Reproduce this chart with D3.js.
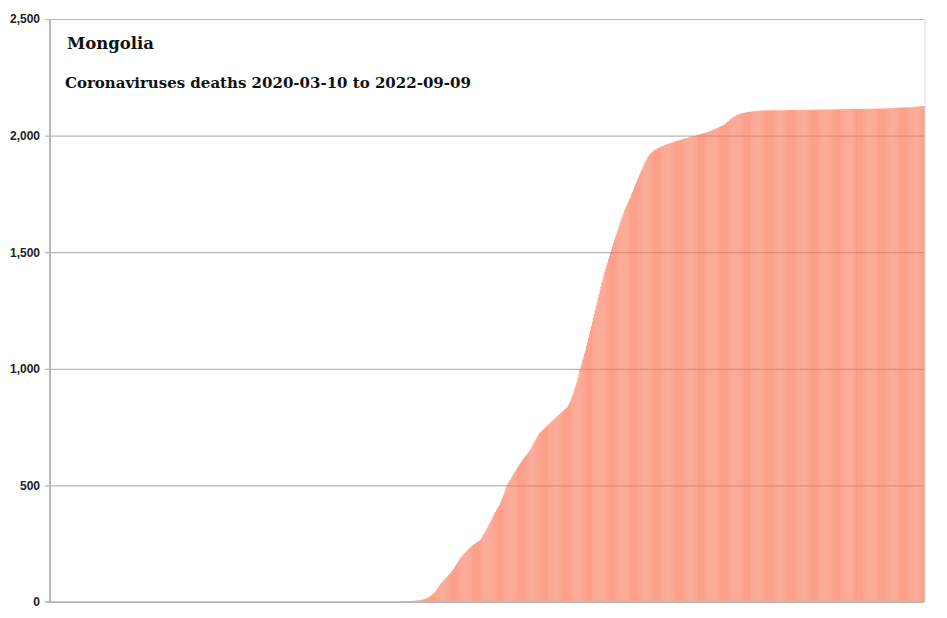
<!DOCTYPE html>
<html>
<head>
<meta charset="utf-8">
<title>Mongolia deaths</title>
<script src="https://d3js.org/d3.v7.min.js"></script>
<style>
body { margin: 0; background: #fff; }
svg { display: block; }
.title { font-family: 'DejaVu Serif', serif; fill: #111; }
.tick text { font-family: 'Liberation Sans', Arial, sans-serif; font-weight: bold; font-size: 12px; fill: #222; }
</style>
</head>
<body>
<svg id="chart" width="947" height="618"></svg>
<script>
// chart texts
var country = "Mongolia";
var subtitle = "Coronaviruses deaths 2020-03-10 to 2022-09-09";
var startDate = "2020-03-10";
var endDate = "2022-09-09";
var yTicks = [0, 500, 1000, 1500, 2000, 2500];

// cumulative deaths, one value per day
// nothing recorded for the first 358 days
var leadingZeroDays = 358;
var deathsFromDay358 = [
0,0,0,2,2,2,2,2,2,2,
3,3,3,3,3,4,4,4,4,4,
5,5,5,6,6,7,7,8,8,9,
10,11,12,13,14,16,18,20,23,26,
29,33,37,41,45,51,57,63,69,75,
81,85,89,93,98,102,107,111,116,120,
124,130,136,142,148,155,161,168,174,181,
187,193,198,202,207,211,216,220,224,228,
232,236,239,243,246,249,252,255,258,261,
263,266,273,280,287,293,300,308,316,323,
331,339,347,355,364,372,380,387,395,402,
410,417,425,436,447,458,469,480,491,502,
509,516,523,530,536,543,550,556,563,570,
576,583,590,596,602,608,614,619,625,630,
636,641,647,652,660,667,675,682,690,697,
704,711,718,725,729,733,737,741,745,749,
753,757,761,765,769,772,776,780,784,787,
791,795,799,802,806,810,814,817,821,825,
829,832,836,844,852,860,872,884,896,908,
920,932,945,962,978,995,1009,1023,1038,1052,
1066,1080,1097,1114,1132,1149,1166,1183,1200,1218,
1235,1252,1269,1286,1304,1321,1338,1353,1369,1384,
1400,1415,1429,1442,1456,1470,1483,1497,1511,1524,
1538,1551,1565,1577,1589,1601,1613,1625,1637,1648,
1660,1671,1683,1692,1701,1710,1719,1728,1737,1748,
1758,1769,1779,1790,1800,1810,1820,1830,1840,1849,
1858,1867,1876,1885,1892,1899,1907,1914,1921,1924,
1928,1931,1935,1938,1940,1942,1944,1947,1949,1951,
1953,1954,1956,1958,1960,1961,1963,1964,1966,1967,
1969,1970,1972,1973,1974,1975,1977,1978,1979,1980,
1982,1983,1984,1985,1986,1988,1989,1990,1991,1992,
1994,1995,1996,1997,1998,1999,2000,2002,2003,2004,
2005,2006,2007,2009,2010,2011,2012,2013,2015,2016,
2018,2019,2021,2023,2024,2026,2028,2030,2032,2034,
2036,2038,2040,2042,2043,2045,2048,2052,2055,2059,
2062,2066,2069,2073,2076,2080,2082,2084,2086,2088,
2090,2092,2093,2094,2095,2096,2097,2098,2099,2100,
2101,2101,2102,2102,2103,2103,2104,2105,2105,2106,
2106,2106,2107,2107,2108,2108,2108,2108,2108,2108,
2108,2108,2108,2108,2108,2108,2109,2109,2109,2109,
2109,2109,2109,2109,2109,2109,2109,2109,2109,2109,
2109,2109,2110,2110,2110,2110,2110,2110,2110,2110,
2110,2110,2110,2110,2110,2110,2110,2110,2110,2110,
2110,2110,2110,2110,2110,2110,2110,2111,2111,2111,
2111,2111,2111,2111,2111,2111,2111,2112,2112,2112,
2112,2112,2112,2112,2112,2112,2112,2112,2112,2112,
2112,2112,2113,2113,2113,2113,2113,2113,2113,2113,
2113,2113,2113,2114,2114,2114,2114,2114,2114,2114,
2114,2114,2114,2114,2114,2114,2114,2114,2114,2114,
2114,2114,2114,2115,2115,2115,2115,2115,2115,2115,
2115,2115,2115,2116,2116,2116,2116,2116,2116,2116,
2116,2116,2116,2117,2117,2117,2117,2117,2117,2117,
2117,2118,2118,2118,2119,2119,2120,2120,2120,2120,
2120,2120,2120,2121,2121,2121,2121,2121,2121,2121,
2122,2122,2122,2123,2123,2124,2124,2124,2125,2125,
2125,2126,2126,2126,2127,2127
];

var deaths = d3.range(leadingZeroDays).map(function(){ return 0; }).concat(deathsFromDay358);
var parseDate = d3.timeParse("%Y-%m-%d");
var days = d3.timeDays(parseDate(startDate), d3.timeDay.offset(parseDate(endDate), 1));
var data = days.map(function(d, i){ return {date: d, value: deaths[i] || 0}; });

var plotLeft = 50, plotRight = 924, plotTop = 19, plotBottom = 602;
var svg = d3.select("#chart");

var x = d3.scaleBand()
	.domain(data.map(function(d){ return d.date; }))
	.range([plotLeft, plotRight + 1])
	.paddingInner(0.12);
var y = d3.scaleLinear().domain([0, 2500]).range([plotBottom, plotTop]);

// grid + y axis
var yAxis = d3.axisLeft(y).tickValues(yTicks).tickFormat(d3.format(","))
	.tickSize(-(plotRight - plotLeft)).tickSizeOuter(0).tickPadding(10);
var gy = svg.append("g").attr("transform", "translate(" + plotLeft + ",0)").call(yAxis);
gy.select(".domain").remove();
gy.selectAll(".tick line").attr("stroke", "#b8b8b8").attr("stroke-width", 1.2).attr("x1", -5);

// bars (semi transparent so grid shows through)
svg.append("g").selectAll("rect").data(data).enter().append("rect")
	.attr("x", function(d){ return x(d.date); })
	.attr("width", x.bandwidth())
	.attr("y", function(d){ return y(d.value); })
	.attr("height", function(d){ return plotBottom - y(d.value); })
	.attr("fill", "rgb(250,112,78)")
	.attr("fill-opacity", 0.78);

// frame lines
svg.append("line").attr("x1", plotLeft).attr("x2", plotLeft).attr("y1", plotTop).attr("y2", plotBottom)
	.attr("stroke", "#b8b8b8").attr("stroke-width", 2);
svg.append("line").attr("x1", plotRight + 1).attr("x2", plotRight + 1).attr("y1", plotTop).attr("y2", plotBottom)
	.attr("stroke", "#d8d8d8").attr("stroke-width", 1);
svg.append("line").attr("x1", plotLeft - 5).attr("x2", plotRight).attr("y1", plotBottom).attr("y2", plotBottom)
	.attr("stroke", "#b8b8b8").attr("stroke-width", 1.5);

// titles
svg.append("text").attr("class", "title").attr("x", 67).attr("y", 49)
	.style("font-size", "16.5px").style("font-weight", "bold").text(country);
svg.append("text").attr("class", "title").attr("x", 65).attr("y", 88)
	.style("font-size", "15px").style("font-weight", "bold").text(subtitle);
</script>
</body>
</html>
